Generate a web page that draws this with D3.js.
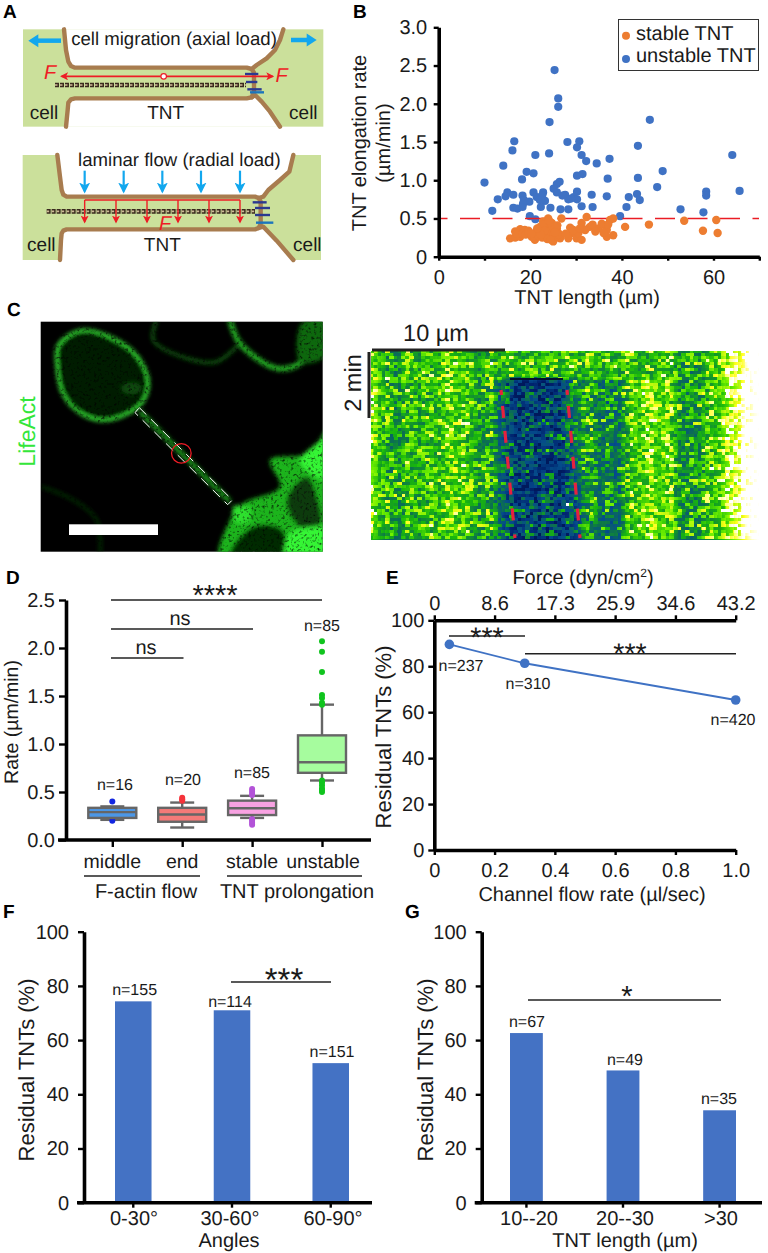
<!DOCTYPE html>
<html>
<head>
<meta charset="utf-8">
<script src="https://cdn.jsdelivr.net/npm/d3@7"></script>
<style>
  html, body { margin: 0; padding: 0; background: #fff; }
  svg { display: block; }
  text { font-family: "Liberation Sans", Arial, sans-serif; fill: #1a1a1a; text-rendering: geometricPrecision; }
</style>
</head>
<body>
<div id="chart"></div>
<script>
// ---- data ----
// B: elongation rate vs. length
var stableX = [60.6,53.6,45.9,40.7,57.7,60.9,15.6,16.7,17.8,18.8,16.7,17.8,19.6,20.3,21,22.1,22.8,23.9,23.6,24.7,25.8,22.5,23.6,24.7,25,26.1,26.5,26.8,28.7,29,28.3,30.1,30.5,31.2,31.2,32.3,33,32,34.9,36.3,37.4,38.1,36.7,36.7,38.1,17,18.3,19,19.7,20.6,21.4,21.8,22.2,22.6,23,23.2,23.4,23.8,24,24.2,24.4,24.8,25,25.2,25.5,25.9,26.2,22.9,23.7,24.5,25.4,24.1,23.1,22.3,21.5,27.7,29.4,31.6,33.6,34.2,35.6,36,37,20.2,30.8];
var stableY = [0.48,0.47,0.42,0.39,0.34,0.31,0.24,0.33,0.36,0.35,0.25,0.26,0.34,0.26,0.22,0.39,0.46,0.5,0.41,0.44,0.37,0.31,0.31,0.26,0.2,0.31,0.24,0.5,0.38,0.31,0.24,0.24,0.31,0.22,0.44,0.52,0.39,0.35,0.37,0.41,0.48,0.5,0.35,0.26,0.28,0.3,0.3,0.29,0.31,0.3,0.33,0.27,0.36,0.25,0.38,0.29,0.44,0.37,0.27,0.45,0.34,0.4,0.3,0.36,0.26,0.41,0.29,0.42,0.23,0.22,0.32,0.47,0.34,0.29,0.37,0.3,0.35,0.36,0.42,0.33,0.43,0.31,0.42,0.3,0.37];
var unstableX = [25.3,26.1,26.1,24.2,46.1,16.5,16.1,28.1,30.7,30.2,24.1,21.1,31.2,32.2,34.5,37.3,43.5,14.1,64.1,48.9,19.2,20.7,18.2,10,30.2,31.4,36.9,43.5,25.8,26.4,47.7,25.1,25.8,65.7,58.4,58.4,43.3,41.5,43.9,36.7,33.4,15,14.6,12.9,16.3,18.3,20.7,22.8,30.2,27.6,29.5,28.3,30.2,21.4,22.1,23.2,18.6,19.8,18.4,22.3,24.4,16.3,17.2,18.3,11.7,26.6,28.3,31.2,33.6,52.8,57.8,39.6,41,19.9,21.1,27,28.9,22.6];
var unstableY = [2.44,2.07,1.96,1.76,1.79,1.51,1.39,1.5,1.51,1.43,1.35,1.33,1.33,1.25,1.22,1.28,1.45,1.19,1.33,1.12,1.11,1.09,1.01,0.97,1.06,1.08,1.02,1.03,0.95,0.98,0.91,0.89,0.84,0.86,0.85,0.8,0.82,0.78,0.74,0.79,0.81,0.84,0.79,0.75,0.81,0.8,0.84,0.84,0.85,0.81,0.78,0.75,0.75,0.78,0.74,0.73,0.74,0.72,0.69,0.65,0.64,0.64,0.63,0.65,0.6,0.62,0.62,0.66,0.65,0.62,0.58,0.53,0.65,0.53,0.49,0.8,0.76,0.8];

// D: box plot
var boxNames = ["middle", "end", "stable", "unstable"];
var boxLow = [0.21, 0.13, 0.23, 0.62];
var boxQ1 = [0.23, 0.19, 0.26, 0.70];
var boxMedian = [0.29, 0.265, 0.33, 0.81];
var boxQ3 = [0.335, 0.335, 0.41, 1.09];
var boxHigh = [0.35, 0.39, 0.46, 1.41];
var boxOutliers = [
  [0.40, 0.20],
  [0.41, 0.44, 0.425],
  [0.47, 0.49, 0.51, 0.53, 0.16, 0.18, 0.2, 0.22],
  [2.07, 1.96, 1.75, 1.51, 1.48, 1.43, 1.41, 0.5, 0.52, 0.54, 0.57, 0.6, 0.62]
];
var boxColors = ["#4c97e6", "#f37a78", "#f8a2e2", "#a6fc9e"];
var dotColors = ["#1226e0", "#f5333a", "#b353d8", "#10c41e"];
var boxN = ["n=16", "n=20", "n=85", "n=85"];

// E: line
var flowRate = [0.05, 0.3, 1.0];
var residual = [89.5, 81.3, 65.3];
var flowN = ["n=237", "n=310", "n=420"];
var forceLabels = ["0", "8.6", "17.3", "25.9", "34.6", "43.2"];

// F and G: bars
var angleNames = ["0-30°", "30-60°", "60-90°"];
var angleValues = [74.3, 71, 51.5];
var angleN = ["n=155", "n=114", "n=151"];
var lengthNames = ["10--20", "20--30", ">30"];
var lengthValues = [62.6, 48.8, 34.1];
var lengthN = ["n=67", "n=49", "n=35"];

// C: kymograph brightness across the strip, left to right
var kymoEdges = [372, 380, 400, 440, 470, 500, 570, 600, 625, 650, 675, 700, 720, 732, 745, 800];
var kymoLevels = [0.95, 0.66, 0.74, 0.82, 0.7, 0.46, 0.66, 0.56, 0.82, 0.84, 0.64, 0.76, 0.92, 1.05, 1.3];

var svg = d3.select("#chart").append("svg")
  .attr("width", 768)
  .attr("height", 1253);
var defs = svg.append("defs");

function label(g, str, x, y, size, anchor) {
  return g.append("text").attr("x", x).attr("y", y)
    .attr("font-size", size).attr("text-anchor", anchor || "middle").text(str);
}
function vLabel(g, str, x, y, size) {
  return g.append("text").attr("transform", `translate(${x},${y}) rotate(-90)`)
    .attr("font-size", size).attr("text-anchor", "middle").text(str);
}
function sigLine(g, x1, x2, y) {
  g.append("line").attr("x1", x1).attr("x2", x2).attr("y1", y).attr("y2", y)
    .attr("stroke", "#222").attr("stroke-width", 1.6);
}
function styleAxis(a, size) {
  a.select(".domain").attr("stroke", "#000").attr("stroke-width", 3.6);
  a.selectAll(".tick line").attr("stroke", "#000").attr("stroke-width", 2.4);
  a.selectAll(".tick text").attr("font-size", size || 20).attr("fill", "#1a1a1a")
    .attr("font-family", '"Liberation Sans", Arial, sans-serif');
}

// panel letters
[["A", 3, 17.5], ["B", 353, 17.5], ["C", 7, 316], ["D", 6, 584], ["E", 386, 584], ["F", 3, 918], ["G", 405, 918]].forEach(function(p) {
  label(svg, p[0], p[1], p[2], 19, "start").attr("font-weight", "bold").style("fill", "#000");
});

// ---- A: schematics ----
var green = "#cbe09b", brown = "#a87c4f", cyan = "#12a7ee", red = "#ee1c25";
var line3 = d3.line().x(d => d[0] / 3).y(d => d[1] / 3);
var groupA = svg.append("g");

function marker(id, color, size) {
  defs.append("marker").attr("id", id).attr("viewBox", "0 0 10 10").attr("refX", 8).attr("refY", 5)
    .attr("markerWidth", size).attr("markerHeight", size).attr("orient", "auto-start-reverse").attr("markerUnits", "userSpaceOnUse")
    .append("path").attr("d", "M0,0L10,5L0,10L2.5,5Z").attr("fill", color);
}
marker("arRed", red, 8);
marker("arCyan", cyan, 11);

function schematic(s) {
  groupA.append("rect").attr("x", s.box[0] / 3).attr("y", s.box[1] / 3)
    .attr("width", (s.box[2] - s.box[0]) / 3).attr("height", (s.box[3] - s.box[1]) / 3).attr("fill", green);
  groupA.append("path").attr("d", line3(s.top) + "Z").attr("fill", "#fff");
  groupA.append("path").attr("d", line3(s.bottom) + "Z").attr("fill", "#fff");
  [s.top, s.bottom, s.end].forEach(function(p) {
    groupA.append("path").attr("d", line3(p)).attr("fill", "none").attr("stroke", brown)
      .attr("stroke-width", 4.4).attr("stroke-linejoin", "round").attr("stroke-linecap", "round");
  });
  s.bars.forEach(function(b) {
    groupA.append("line").attr("x1", b[0] / 3).attr("x2", b[1] / 3).attr("y1", b[2] / 3).attr("y2", b[2] / 3)
      .attr("stroke", b[3]).attr("stroke-width", 2.4);
  });
  // actin rope
  groupA.append("line").attr("x1", s.rope[0] / 3).attr("x2", s.rope[1] / 3).attr("y1", s.rope[2] / 3).attr("y2", s.rope[2] / 3)
    .attr("stroke", "#3a2a1e").attr("stroke-width", 4.6).attr("stroke-dasharray", "4 1");
  groupA.append("line").attr("x1", s.rope[0] / 3).attr("x2", s.rope[1] / 3).attr("y1", s.rope[2] / 3).attr("y2", s.rope[2] / 3)
    .attr("stroke", "#cdbb96").attr("stroke-width", 1.6).attr("stroke-dasharray", "2.5 2.5");
}
schematic({
  box: [69, 88, 970, 380],
  top: [[192, 88], [198, 150], [205, 185], [213, 198], [225, 203], [740, 203], [755, 207], [770, 195], [800, 175], [825, 150], [840, 120], [850, 88]],
  bottom: [[198, 380], [203, 330], [205, 308], [213, 298], [225, 295], [740, 295], [755, 292], [765, 285], [785, 305], [810, 335], [840, 380]],
  end: [[755, 207], [762, 218], [762, 275], [755, 292]],
  bars: [[735, 775, 222, "#2b3990"], [738, 772, 246, "#2b3990"], [742, 785, 268, "#2b3990"], [750, 792, 277, "#1c75bc"]],
  rope: [165, 738, 255]
});
schematic({
  box: [68, 465, 963, 780],
  top: [[172, 465], [180, 530], [185, 570], [190, 584], [200, 590], [765, 590], [776, 594], [790, 590], [805, 570], [840, 540], [868, 515], [880, 465]],
  bottom: [[180, 780], [183, 720], [185, 700], [190, 692], [200, 688], [765, 688], [776, 684], [790, 680], [830, 722], [880, 780]],
  end: [[776, 594], [782, 605], [782, 672], [776, 684]],
  bars: [[758, 800, 607, "#2b3990"], [765, 810, 624, "#2b3990"], [765, 810, 645, "#2b3990"], [768, 820, 668, "#1c75bc"]],
  rope: [140, 765, 634]
});

// big arrows
[[183, 85, 122], [873, 950, 120]].forEach(function(a) {
  groupA.append("line").attr("x1", a[0] / 3).attr("x2", (a[1] + (a[1] > a[0] ? -22 : 22)) / 3).attr("y1", a[2] / 3).attr("y2", a[2] / 3)
    .attr("stroke", cyan).attr("stroke-width", 4.5);
  var dir = a[1] > a[0] ? 1 : -1;
  groupA.append("path").attr("fill", cyan)
    .attr("d", `M${a[1] / 3},${a[2] / 3}l${-dir * 10},-6.5v13Z`);
});
// red axial force
groupA.append("line").attr("x1", 492 / 3).attr("x2", 185 / 3).attr("y1", 229 / 3).attr("y2", 229 / 3)
  .attr("stroke", red).attr("stroke-width", 1.6).attr("marker-end", "url(#arRed)");
groupA.append("line").attr("x1", 492 / 3).attr("x2", 818 / 3).attr("y1", 229 / 3).attr("y2", 229 / 3)
  .attr("stroke", red).attr("stroke-width", 1.6).attr("marker-end", "url(#arRed)");
groupA.append("circle").attr("cx", 491 / 3).attr("cy", 229 / 3).attr("r", 2.8)
  .attr("fill", "#fff").attr("stroke", red).attr("stroke-width", 1.2);
// radial load
var flowArrows = [254, 371, 487, 603, 720];
var forceDrops = [254, 348, 441, 534, 627, 720];
flowArrows.forEach(function(x) {
  groupA.append("line").attr("x1", x / 3).attr("x2", x / 3).attr("y1", 512 / 3).attr("y2", 574 / 3)
    .attr("stroke", cyan).attr("stroke-width", 2.2).attr("marker-end", "url(#arCyan)");
});
groupA.append("line").attr("x1", 254 / 3).attr("x2", 720 / 3).attr("y1", 600 / 3).attr("y2", 600 / 3)
  .attr("stroke", red).attr("stroke-width", 1.6);
forceDrops.forEach(function(x) {
  groupA.append("line").attr("x1", x / 3).attr("x2", x / 3).attr("y1", 600 / 3).attr("y2", 666 / 3)
    .attr("stroke", red).attr("stroke-width", 1.4).attr("marker-end", "url(#arRed)");
});
[[150, 238], [845, 245], [495, 689]].forEach(function(f) {
  label(groupA, "F", f[0] / 3, f[1] / 3, 20).attr("font-style", "italic").style("fill", red);
});
label(groupA, "cell migration (axial load)", 522 / 3, 135 / 3, 18.6);
label(groupA, "laminar flow (radial load)", 538 / 3, 498 / 3, 18.6);
[[132, 356], [910, 356], [497, 356], [124, 752], [922, 752], [487, 752]].forEach(function(t, i) {
  label(groupA, i == 2 || i == 5 ? "TNT" : "cell", t[0] / 3, t[1] / 3, 19);
});

// ---- B: scatter ----
var groupB = svg.append("g");
var xB = d3.scaleLinear().domain([0, 70]).range([438.7, 759.3]);
var yB = d3.scaleLinear().domain([0, 3]).range([256.7, 27.3]);

groupB.selectAll("circle.unstable").data(d3.zip(unstableX, unstableY)).enter().append("circle")
  .attr("class", "unstable").attr("cx", d => xB(d[0])).attr("cy", d => yB(d[1])).attr("r", 4.1).attr("fill", "#3f72c4");
groupB.append("line").attr("x1", 438).attr("x2", 759).attr("y1", yB(0.5)).attr("y2", yB(0.5))
  .attr("stroke", "#ea1c24").attr("stroke-width", 1.6).attr("stroke-dasharray", "20 12.5").attr("stroke-dashoffset", 10.5);
groupB.selectAll("circle.stable").data(d3.zip(stableX, stableY)).enter().append("circle")
  .attr("class", "stable").attr("cx", d => xB(d[0])).attr("cy", d => yB(d[1])).attr("r", 4.2).attr("fill", "#ed7d31");

var axBx = groupB.append("g").attr("transform", "translate(0,256.7)")
  .call(d3.axisBottom(xB).tickValues(d3.range(0, 71, 10)).tickSizeInner(4).tickSizeOuter(0).tickFormat(d => d % 20 == 0 && d < 70 ? d : "").tickPadding(9));
styleAxis(axBx);
var axBy = groupB.append("g").attr("transform", "translate(438.7,0)")
  .call(d3.axisLeft(yB).tickValues(d3.range(0, 3.1, 0.5)).tickSizeInner(5).tickSizeOuter(0).tickFormat(d => d == 0 ? "0" : d3.format(".1f")(d)).tickPadding(6.5));
styleAxis(axBy);
label(groupB, "TNT length (µm)", 587, 304, 20);
vLabel(groupB, "TNT elongation rate", 366, 143, 20);
vLabel(groupB, "(µm/min)", 390, 143, 20);
groupB.append("rect").attr("x", 618.5).attr("y", 19.5).attr("width", 140).attr("height", 51)
  .attr("fill", "#fff").attr("stroke", "#333").attr("stroke-width", 1);
groupB.append("circle").attr("cx", 626).attr("cy", 35.7).attr("r", 4).attr("fill", "#ed7d31");
groupB.append("circle").attr("cx", 626).attr("cy", 59).attr("r", 4).attr("fill", "#3f72c4");
label(groupB, "stable TNT", 636, 40, 20, "start");
label(groupB, "unstable TNT", 636, 62, 20, "start");

// ---- C: micrograph ----
var groupC = svg.append("g");
var haze = defs.append("filter").attr("id", "haze").attr("filterUnits", "userSpaceOnUse")
  .attr("x", 40).attr("y", 321).attr("width", 284).attr("height", 232);
haze.append("feGaussianBlur").attr("in", "SourceGraphic").attr("stdDeviation", 2).attr("result", "soft");
haze.append("feTurbulence").attr("type", "fractalNoise").attr("baseFrequency", 0.35).attr("numOctaves", 2).attr("seed", 4).attr("result", "n");
haze.append("feColorMatrix").attr("in", "n").attr("type", "matrix")
  .attr("values", "0 0 0 0 0  0 0 0 0 0  0 0 0 0 0  2.2 0 0 0 -0.05").attr("result", "mask");
haze.append("feComposite").attr("in", "soft").attr("in2", "mask").attr("operator", "in");

var clipC = defs.append("clipPath").attr("id", "clipC");
clipC.append("rect").attr("x", 40.7).attr("y", 321.7).attr("width", 282).attr("height", 230);
groupC.append("rect").attr("x", 40.7).attr("y", 321.7).attr("width", 282).attr("height", 230).attr("fill", "#000");
var cellsC = groupC.append("g").attr("clip-path", "url(#clipC)").append("g").attr("filter", "url(#haze)");
var open3 = d3.line().x(d => d[0] / 3).y(d => 300 + d[1] / 3).curve(d3.curveCatmullRom);
var blob3 = d3.line().x(d => d[0] / 3).y(d => 300 + d[1] / 3).curve(d3.curveCatmullRomClosed);

// round cell: faint inside, bright rim
var ring = [[175, 135], [250, 90], [395, 150], [445, 240], [425, 310], [330, 360], [250, 345], [190, 285], [170, 190]];
cellsC.append("path").attr("d", blob3(ring)).attr("fill", "#031a03").attr("stroke", "#3cff3c").attr("stroke-width", 2.6);
cellsC.append("ellipse").attr("cx", 395 / 3).attr("cy", 300 + 265 / 3).attr("rx", 10).attr("ry", 6).attr("fill", "#0a4a0a");
// right hand mass
cellsC.append("path").attr("fill", "#1fb41f")
  .attr("d", blob3([[1000, 370], [925, 460], [810, 480], [840, 560], [730, 610], [690, 660], [660, 790], [1010, 790]]));
cellsC.append("path").attr("fill", "#35f535").attr("d", blob3([[1000, 360], [960, 420], [900, 480], [930, 520], [1000, 540]]));
cellsC.append("path").attr("fill", "#073a07").attr("d", blob3([[860, 600], [920, 530], [950, 590], [960, 670], [900, 680]]));
cellsC.append("path").attr("fill", "#052c05").attr("d", blob3([[690, 760], [760, 680], [840, 685], [860, 730], [840, 790], [700, 790]]));
cellsC.append("path").attr("fill", "#35f535").attr("d", blob3([[870, 700], [1000, 690], [1000, 790], [860, 790]]));
cellsC.append("path").attr("fill", "#2fe02f").attr("d", blob3([[700, 620], [750, 625], [745, 665], [705, 665]]));
// upper cell outlines
[[[690, 60], [720, 130], [830, 205], [900, 190], [975, 100]], [[470, 60], [460, 120], [560, 175], [650, 185], [720, 130]], [[125, 560], [220, 600], [290, 660], [300, 760]]].forEach(function(p, i) {
  cellsC.append("path").attr("d", open3(p)).attr("fill", "none")
    .attr("stroke", i == 0 ? "#26c026" : i == 1 ? "#137513" : "#0a380a").attr("stroke-width", i == 0 ? 5 : 2.6);
});
cellsC.append("path").attr("fill", "#0f680f").attr("d", blob3([[905, 70], [975, 60], [975, 170], [900, 185]]));
cellsC.append("line").attr("x1", 420 / 3).attr("y1", 300 + 335 / 3).attr("x2", 690 / 3).attr("y2", 300 + 605 / 3)
  .attr("stroke", "#1e9a1e").attr("stroke-width", 5);
// selection box and marker over the tube
groupC.append("polygon").attr("points", [[418, 323], [697, 600], [683, 614], [405, 338]].map(p => [p[0] / 3, 300 + p[1] / 3].join(",")).join(" "))
  .attr("fill", "none").attr("stroke", "#fff").attr("stroke-width", 1).attr("stroke-dasharray", "10 6.5");
groupC.append("circle").attr("cx", 544 / 3).attr("cy", 300 + 460 / 3).attr("r", 9.8)
  .attr("fill", "none").attr("stroke", "#ee1c25").attr("stroke-width", 1.3);
groupC.append("rect").attr("x", 69).attr("y", 524.3).attr("width", 89).attr("height", 10.7).attr("fill", "#fff");
vLabel(groupC, "LifeAct", 35, 431.5, 23).style("fill", "#33e63a");

// kymograph: brightness strip pushed through a colour table, speckle from the filter
var table = {
  r: "0 0 0.02 0.05 0.1 0.45 1 1",
  g: "0 0.12 0.3 0.45 0.72 0.95 1 1",
  b: "0.1 0.42 0.55 0.3 0.05 0 0.1 1"
};
var kymo = defs.append("filter").attr("id", "kymo").attr("filterUnits", "userSpaceOnUse")
  .attr("x", 371).attr("y", 351).attr("width", 397).attr("height", 189)
  .attr("color-interpolation-filters", "sRGB");
kymo.append("feGaussianBlur").attr("in", "SourceGraphic").attr("stdDeviation", "7 2").attr("result", "soft");
kymo.append("feTurbulence").attr("type", "turbulence").attr("baseFrequency", "0.3 0.4").attr("numOctaves", 1).attr("seed", 9).attr("result", "noise");
kymo.append("feFlood").attr("x", 371).attr("y", 351).attr("width", 1).attr("height", 1).attr("flood-color", "#fff").attr("result", "dot");
kymo.append("feComposite").attr("in", "dot").attr("in2", "dot").attr("x", 371).attr("y", 351).attr("width", 4).attr("height", 3).attr("result", "cell");
kymo.append("feTile").attr("in", "cell").attr("result", "grid");
kymo.append("feComposite").attr("in", "noise").attr("in2", "grid").attr("operator", "in").attr("result", "sparse");
kymo.append("feMorphology").attr("in", "sparse").attr("operator", "dilate").attr("radius", "2 1").attr("result", "blocks");
kymo.append("feColorMatrix").attr("in", "blocks").attr("type", "matrix")
  .attr("values", "1 0 0 0 0  1 0 0 0 0  1 0 0 0 0  0 0 0 0 1").attr("result", "grey");
kymo.append("feComposite").attr("in", "soft").attr("in2", "grey").attr("operator", "arithmetic")
  .attr("k1", 0).attr("k2", 1.3).attr("k3", 0.95).attr("k4", -0.3).attr("result", "mix");
var transfer = kymo.append("feComponentTransfer").attr("in", "mix");
transfer.append("feFuncR").attr("type", "table").attr("tableValues", table.r);
transfer.append("feFuncG").attr("type", "table").attr("tableValues", table.g);
transfer.append("feFuncB").attr("type", "table").attr("tableValues", table.b);

// level 1.3 comes out of the filter as plain white
var grey = d3.scaleLinear().domain([0, 1.3]).range(["#000", "#fff"]);
var strip = groupC.append("g").attr("filter", "url(#kymo)");
strip.append("rect").attr("x", 340).attr("y", 330).attr("width", 470).attr("height", 230).attr("fill", "#fff");
strip.selectAll("rect.col").data(kymoLevels).enter().append("rect").attr("class", "col")
  .attr("x", (d, i) => kymoEdges[i]).attr("width", (d, i) => kymoEdges[i + 1] - kymoEdges[i])
  .attr("y", 330).attr("height", 230).attr("fill", d => grey(d));
strip.append("rect").attr("x", 340).attr("y", 330).attr("width", 32).attr("height", 230).attr("fill", grey(0.85));
strip.append("rect").attr("x", 485).attr("y", 330).attr("width", 175).attr("height", 49).attr("fill", grey(0.76));
strip.append("polygon").attr("points", "507,378 566,378 582,560 518,560").attr("fill", grey(0.42));
groupC.append("rect").attr("x", 510).attr("y", 378).attr("width", 53).attr("height", 2).attr("fill", "#03122c");
// red guides
[[501, 390, 515, 538], [567, 390, 580, 538]].forEach(function(g) {
  groupC.append("line").attr("x1", g[0]).attr("y1", g[1]).attr("x2", g[2]).attr("y2", g[3])
    .attr("stroke", "#e6213f").attr("stroke-width", 3.2).attr("stroke-dasharray", "5 11 12 13 12 14 12 14 12 14 12 14");
});
groupC.append("line").attr("x1", 372).attr("x2", 505).attr("y1", 350).attr("y2", 350).attr("stroke", "#222").attr("stroke-width", 3);
groupC.append("line").attr("x1", 369).attr("x2", 369).attr("y1", 352).attr("y2", 418).attr("stroke", "#222").attr("stroke-width", 3);
label(groupC, "10 µm", 436, 341, 23.5);
vLabel(groupC, "2 min", 361, 383, 23.5);

// ---- D: box plot ----
var groupD = svg.append("g");
var xD = d3.scalePoint().domain(boxNames).range([112.3, 322]);
var yD = d3.scaleLinear().domain([0, 2.5]).range([840, 600]);
var boxW = 48;

boxNames.forEach(function(name, i) {
  var cx = xD(name);
  var g = groupD.append("g").attr("stroke", "#666").attr("stroke-width", 2.4);
  g.append("line").attr("x1", cx).attr("x2", cx).attr("y1", yD(boxLow[i])).attr("y2", yD(boxHigh[i]));
  [boxLow[i], boxHigh[i]].forEach(function(v) {
    g.append("line").attr("x1", cx - 12).attr("x2", cx + 12).attr("y1", yD(v)).attr("y2", yD(v));
  });
  g.selectAll("circle").data(boxOutliers[i]).enter().append("circle")
    .attr("cx", cx).attr("cy", d => yD(d)).attr("r", 3).attr("fill", dotColors[i]).attr("stroke", "none");
  g.append("rect").attr("x", cx - boxW / 2).attr("width", boxW)
    .attr("y", yD(boxQ3[i])).attr("height", yD(boxQ1[i]) - yD(boxQ3[i])).attr("fill", boxColors[i]);
  g.append("line").attr("x1", cx - boxW / 2).attr("x2", cx + boxW / 2).attr("y1", yD(boxMedian[i])).attr("y2", yD(boxMedian[i]));
});
var axDy = groupD.append("g").attr("transform", "translate(66,0)")
  .call(d3.axisLeft(yD).tickValues(d3.range(0, 2.6, 0.5)).tickSizeInner(7).tickSizeOuter(0).tickFormat(d3.format(".1f")).tickPadding(4));
styleAxis(axDy);
var axDx = groupD.append("g").attr("transform", "translate(0,840)")
  .call(d3.axisBottom(xD).tickSizeInner(7).tickSizeOuter(0).tickFormat("").tickPadding(8));
styleAxis(axDx);
axDx.select(".domain").attr("d", "M58,0H371");
boxNames.forEach(function(name) { label(groupD, name, xD(name) + (name == "unstable" ? 1 : 0), 868, 19.5); });
label(groupD, "F-actin flow", 146, 898, 20);
label(groupD, "TNT prolongation", 297, 898, 20);
sigLine(groupD, 84, 200, 876);
sigLine(groupD, 227, 362, 876);
sigLine(groupD, 111, 322, 600);
sigLine(groupD, 111, 253, 629);
sigLine(groupD, 111, 183.5, 658);
label(groupD, "****", 215, 605, 29);
label(groupD, "ns", 180, 625, 20);
label(groupD, "ns", 146, 654, 20);
[[115, 790], [183, 785], [252, 778], [322, 631]].forEach(function(p, i) {
  label(groupD, boxN[i], p[0], p[1], 16);
});
vLabel(groupD, "Rate (µm/min)", 18, 722, 19.5);

// ---- E: line ----
var groupE = svg.append("g");
var xE = d3.scaleLinear().domain([0, 1]).range([434.3, 735.7]);
var yE = d3.scaleLinear().domain([0, 100]).range([850, 620.3]);
var axEb = groupE.append("g").attr("transform", "translate(0,850)")
  .call(d3.axisBottom(xE).tickValues([0, 0.2, 0.4, 0.6, 0.8, 1]).tickSizeInner(5).tickSizeOuter(0).tickFormat(d => d == 0 ? "0" : d3.format(".1f")(d)).tickPadding(8));
styleAxis(axEb);
var axEt = groupE.append("g").attr("transform", "translate(0,620.3)")
  .call(d3.axisTop(xE).tickValues([0, 0.2, 0.4, 0.6, 0.8, 1]).tickSizeInner(5).tickSizeOuter(0).tickFormat((d, i) => forceLabels[i]).tickPadding(5));
styleAxis(axEt);
var axEy = groupE.append("g").attr("transform", "translate(434.3,0)")
  .call(d3.axisLeft(yE).tickValues(d3.range(0, 101, 20)).tickSizeInner(6).tickSizeOuter(0).tickPadding(4));
styleAxis(axEy);
var lineE = d3.line().x(d => xE(d[0])).y(d => yE(d[1]));
groupE.append("path").attr("d", lineE(d3.zip(flowRate, residual))).attr("fill", "none").attr("stroke", "#3f72c4").attr("stroke-width", 1.8);
groupE.selectAll("circle").data(d3.zip(flowRate, residual)).enter().append("circle")
  .attr("cx", d => xE(d[0])).attr("cy", d => yE(d[1])).attr("r", 4.8).attr("fill", "#3f72c4");
sigLine(groupE, 449, 525, 636);
sigLine(groupE, 525, 736, 653.7);
label(groupE, "***", 487, 647, 28.5);
label(groupE, "***", 630, 663, 28.5);
[[461, 671], [528, 689], [733, 725]].forEach(function(p, i) {
  label(groupE, flowN[i], p[0], p[1], 16);
});
var forceTitle = label(groupE, "Force (dyn/cm", 583, 584, 20);
forceTitle.append("tspan").attr("font-size", 12).attr("dy", -7).text("2");
forceTitle.append("tspan").attr("dy", 7).text(")");
label(groupE, "Channel flow rate (µl/sec)", 592, 901, 20);
vLabel(groupE, "Residual TNTs (%)", 391, 737, 22);

// ---- F and G: bars ----
function barPanel(opt) {
  var g = svg.append("g");
  var x = d3.scaleBand().domain(opt.names).range(opt.range).paddingInner(opt.pad).paddingOuter(0);
  var y = d3.scaleLinear().domain([0, 100]).range([1202.7, 931.7]);
  g.selectAll("rect").data(opt.values).enter().append("rect")
    .attr("x", (d, i) => x(opt.names[i])).attr("width", x.bandwidth())
    .attr("y", d => y(d)).attr("height", d => y(0) - y(d)).attr("fill", "#4472c4");
  var ay = g.append("g").attr("transform", `translate(${opt.axisX},0)`)
    .call(d3.axisLeft(y).tickValues(d3.range(0, 101, 20)).tickSizeInner(6).tickSizeOuter(0).tickPadding(9));
  styleAxis(ay);
  var ax = g.append("g").attr("transform", "translate(0,1202.7)")
    .call(d3.axisBottom(x).tickSizeInner(5).tickSizeOuter(0).tickFormat(""));
  styleAxis(ax);
  ax.select(".domain").attr("d", `M${opt.axisX - 7},0H${opt.axisEnd}`);
  opt.names.forEach(function(n, i) {
    label(g, n, opt.tickLabelX[i], 1225, 20);
    label(g, opt.n[i], opt.nPos[i][0], opt.nPos[i][1], 16);
  });
  label(g, opt.title, opt.titleX, 1247, 20);
  vLabel(g, "Residual TNTs (%)", opt.yLabelX, 1070, 22);
  return g;
}
var panelF = barPanel({
  names: angleNames, values: angleValues, n: angleN, range: [115, 349], pad: 0.63, axisX: 84, axisEnd: 372,
  tickLabelX: [134, 230, 333], nPos: [[134.6, 995], [230, 1007], [332, 1057]], title: "Angles", titleX: 229, yLabelX: 34
});
sigLine(panelF, 231, 331, 982);
label(panelF, "***", 284, 991, 33);
var panelG = barPanel({
  names: lengthNames, values: lengthValues, n: lengthN, range: [510, 736], pad: 0.66, axisX: 481.7, axisEnd: 762,
  tickLabelX: [529, 625, 721], nPos: [[527, 1027], [625, 1065], [719, 1104]], title: "TNT length (µm)", titleX: 625, yLabelX: 433
});
sigLine(panelG, 528, 721, 1000);
label(panelG, "*", 627, 1006, 29);
</script>
</body>
</html>
